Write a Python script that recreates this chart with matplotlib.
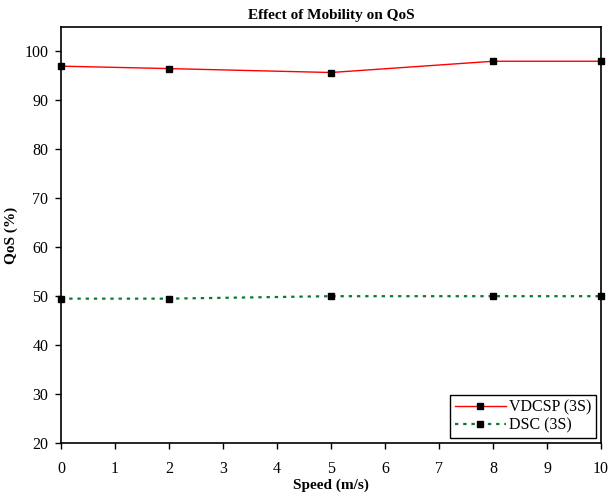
import matplotlib
matplotlib.use("Agg")
from matplotlib import pyplot as plt

# speed (m/s) vs QoS (%)
speed = [0, 2, 5, 8, 10]
qos_vdcsp = [97.0, 96.5, 95.7, 98.0, 98.0]
qos_dsc = [49.5, 49.5, 50.0, 50.0, 50.0]

plt.rcParams['font.family'] = ['Liberation Serif', 'DejaVu Serif']

fig = plt.figure(figsize=(6.08, 4.98), dpi=100)
ax = fig.add_axes([0.1003, 0.1104, 0.8882, 0.8354])

ax.plot(speed, qos_vdcsp, color='red', lw=1.0, marker='s', ms=4,
        mfc='black', mec='black', label='VDCSP (3S)', clip_on=False, zorder=3)
ax.plot(speed, qos_dsc, color='#0a7a32', lw=1.6, ls=(0, (1.5, 2.2)), marker='s',
        ms=4, mfc='black', mec='black', label='DSC (3S)', clip_on=False, zorder=3)

ax.set_xlim(0, 10)
ax.set_ylim(20, 105)
ax.set_xticks(range(0, 11))
ax.set_yticks(range(20, 101, 10))
ax.tick_params(direction='out', length=4, width=1, labelsize=11.5, pad=9)
ax.tick_params(axis='y', pad=5)

for side in ['left', 'bottom', 'top', 'right']:
    ax.spines[side].set_linewidth(1.2)

ax.set_title('Effect of Mobility on QoS', fontsize=11, fontweight='bold', pad=6)
ax.set_xlabel('Speed (m/s)', fontsize=11, fontweight='bold', labelpad=1)
ax.set_ylabel('QoS (%)', fontsize=11, fontweight='bold', labelpad=5)

leg = ax.legend(loc='lower right', fontsize=11.5, fancybox=False, framealpha=1,
                edgecolor='black', borderpad=0.3, handlelength=3.2,
                handletextpad=0.2, labelspacing=0.1, borderaxespad=0.3)
leg.get_frame().set_linewidth(1.0)

fig.savefig('out.png', dpi=100)
